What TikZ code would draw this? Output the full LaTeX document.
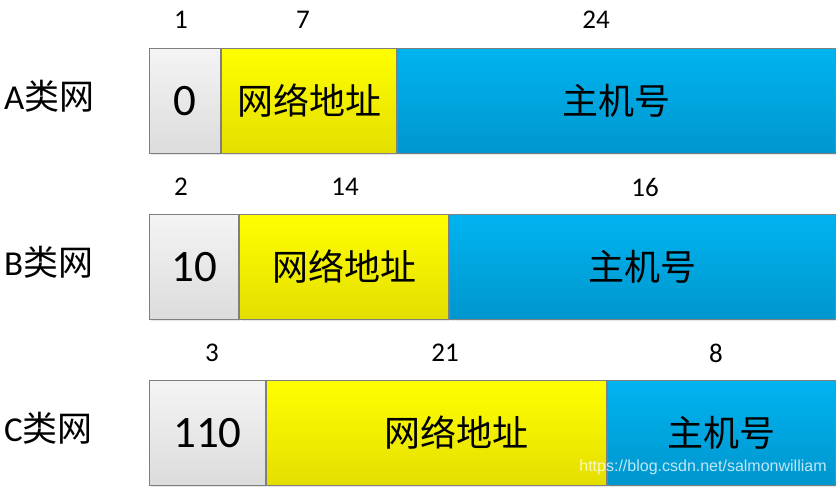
\documentclass[tikz,border=0pt]{standalone}
\usepackage{fontspec}
\setmainfont{Carlito}
\newfontfamily\cjk{Noto Sans CJK SC}
\newfontfamily\wmfont{Liberation Sans}
\usetikzlibrary{shadows}
\definecolor{framegray}{HTML}{7F7F7F}
\definecolor{prefixtop}{HTML}{F4F4F4}
\definecolor{prefixbot}{HTML}{DCDCDC}
\definecolor{nettop}{HTML}{FFFF00}
\definecolor{netbot}{HTML}{E4DE00}
\definecolor{hosttop}{HTML}{00B4F0}
\definecolor{hostbot}{HTML}{0096CE}
\tikzset{
  cell/.style={draw=framegray,line width=1pt,inner sep=0pt,minimum height=105pt,
    anchor=north west,drop shadow={opacity=0.2,shadow xshift=1.5pt,shadow yshift=-1.5pt}},
  classbits/.style={cell,top color=prefixtop,bottom color=prefixbot,font=\fontsize{45}{45}\selectfont},
  netpart/.style={cell,top color=nettop,bottom color=netbot,font=\cjk\fontsize{36}{36}\selectfont},
  hostpart/.style={cell,top color=hosttop,bottom color=hostbot,font=\cjk\fontsize{36}{36}\selectfont},
  bitcount/.style={font=\fontsize{27}{27}\selectfont},
  classname/.style={anchor=west,inner sep=0pt,font=\fontsize{35}{35}\selectfont}
}
\begin{document}
\begin{tikzpicture}[x=1pt,y=-1pt]
\useasboundingbox(0,0)rectangle(836,487);
% A
\node[classbits,minimum width=71pt](a0)at(149,48){0};
\node[netpart,minimum width=175pt](anet)at(a0.north east){网络地址};
\node[hostpart,minimum width=438pt](ahost)at(anet.north east){主机号};
\node[classname](aname)at(4,96){A\cjk 类网};
\node[bitcount](abits0)at(181,20){1};
\node[bitcount](abits1)at(303,20){7};
\node[bitcount](abits2)at(596,20){24};
% B
\node[classbits,minimum width=89pt](b0)at(149,214){10};
\node[netpart,minimum width=209pt](bnet)at(b0.north east){网络地址};
\node[hostpart,minimum width=386pt](bhost)at(bnet.north east){主机号};
\node[classname](bname)at(4,262){B\cjk 类网};
\node[bitcount](bbits0)at(181,187){2};
\node[bitcount](bbits1)at(345,187){14};
\node[bitcount](bbits2)at(645,187){16};
% C
\node[classbits,minimum width=116pt](c0)at(149,380){110};
\node[netpart,minimum width=340pt](cnet)at(c0.north east){\hspace*{40pt}网络地址};
\node[hostpart,minimum width=228pt](chost)at(cnet.north east){主机号};
\node[classname](cname)at(4,428){C\cjk 类网};
\node[bitcount](cbits0)at(212,353){3};
\node[bitcount](cbits1)at(445,353){21};
\node[bitcount](cbits2)at(716,353){8};
\node[font=\wmfont\fontsize{16}{16}\selectfont,text=white,text opacity=0.75](mark)
  at(703,467){https://blog.csdn.net/salmonwilliam};
\end{tikzpicture}
\end{document}
